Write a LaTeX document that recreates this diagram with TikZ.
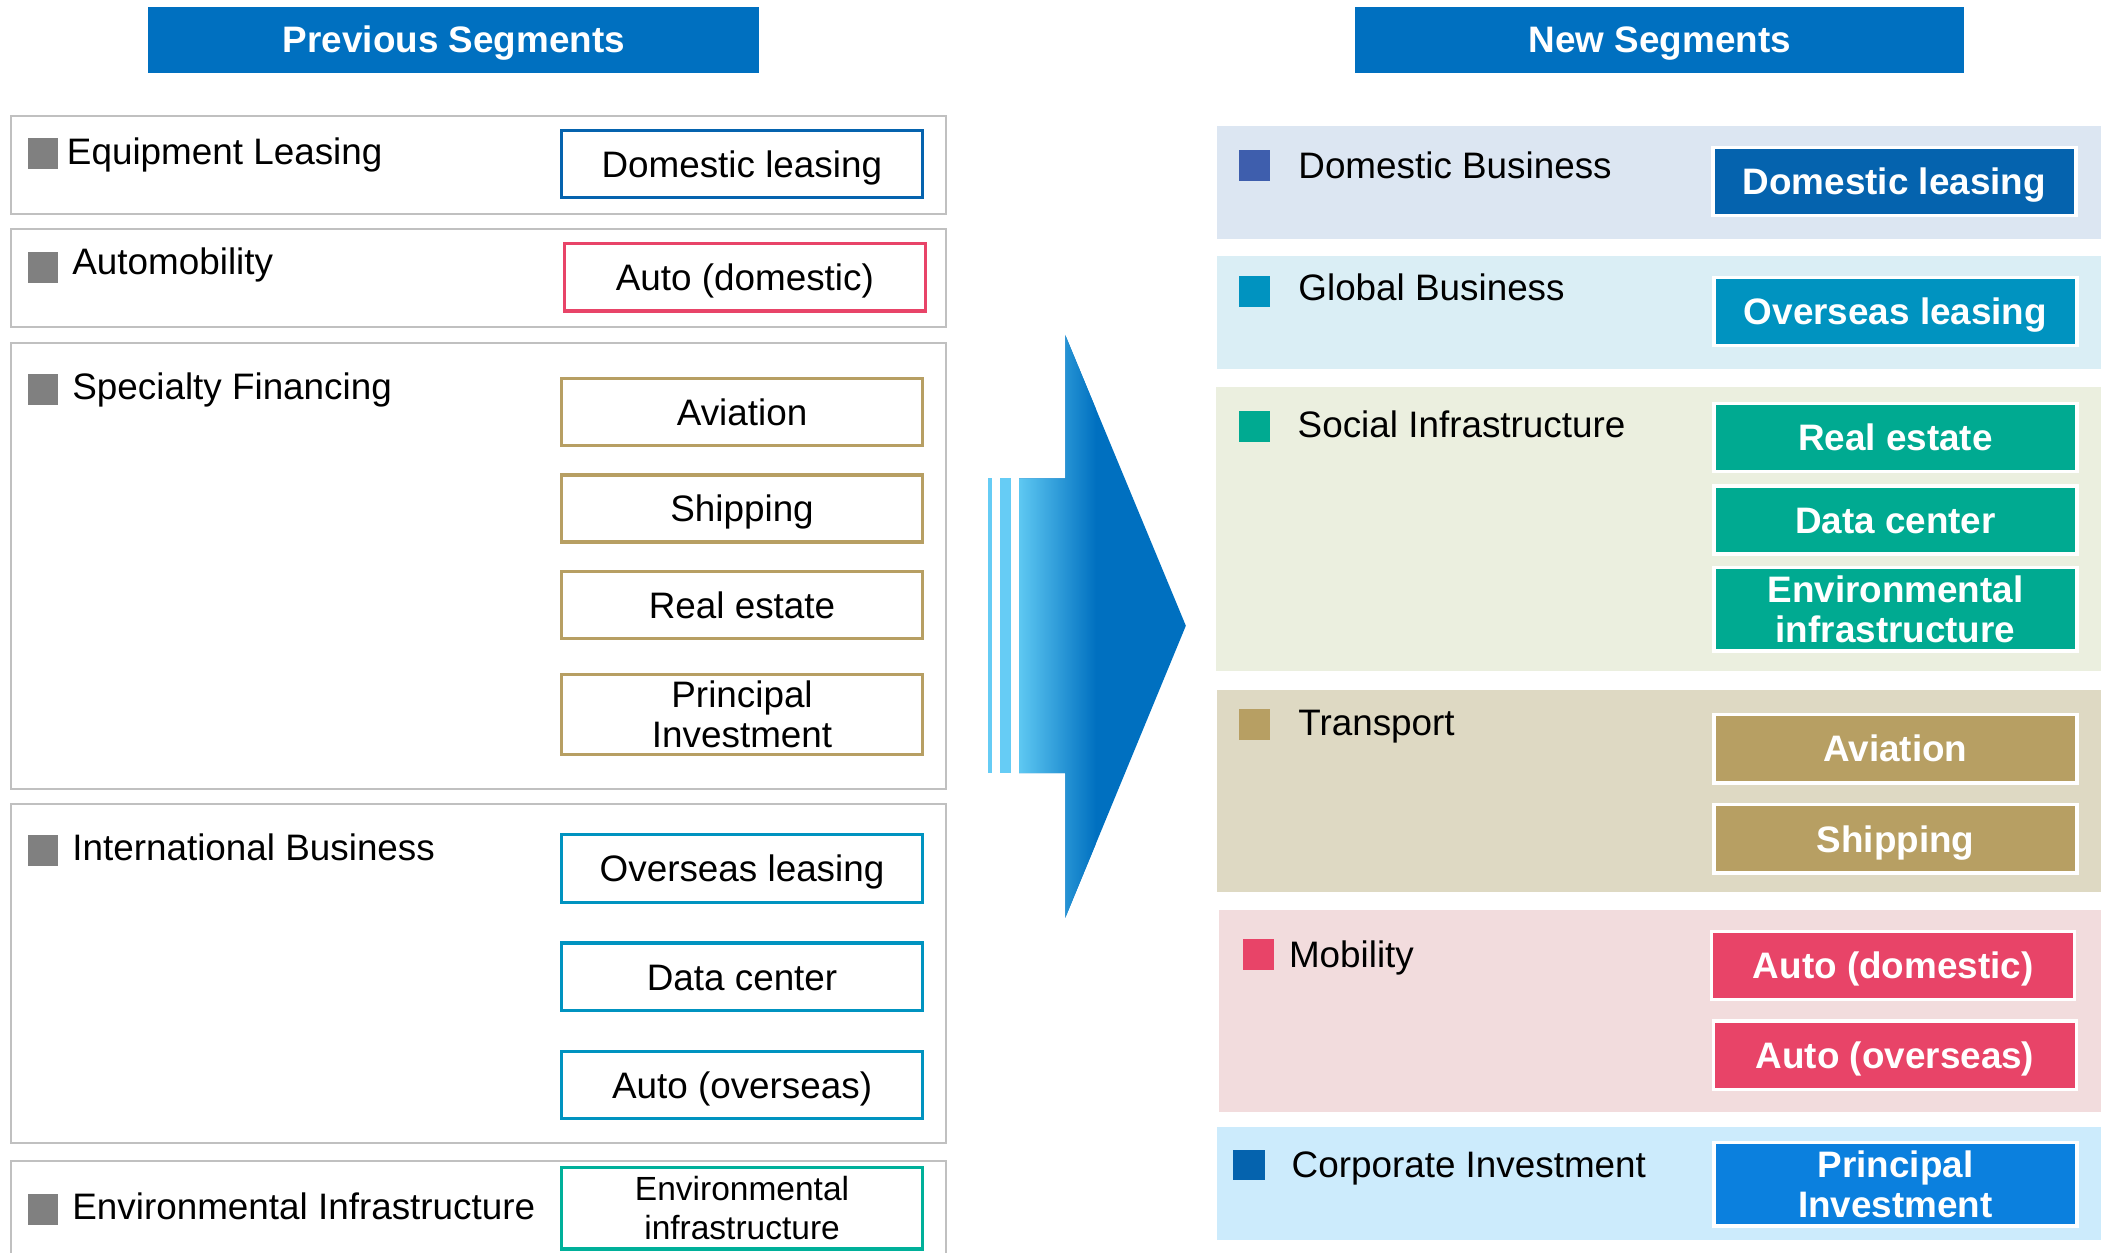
\documentclass[tikz,border=0pt]{standalone}
\usepackage{fontspec}
\setmainfont{Liberation Sans}
\definecolor{hblue}{HTML}{0070C0}
\definecolor{lgray}{HTML}{C0C0C0}
\definecolor{sqgray}{HTML}{808080}
\definecolor{cdom}{HTML}{0563AE}
\definecolor{cdomsq}{HTML}{3E5EAD}
\definecolor{cglob}{HTML}{0093C0}
\definecolor{csoc}{HTML}{00AA91}
\definecolor{cenvl}{HTML}{00B09A}
\definecolor{cgold}{HTML}{B79F63}
\definecolor{cred}{HTML}{E84468}
\definecolor{cpi}{HTML}{0B80DE}
\definecolor{pdom}{HTML}{DCE6F2}
\definecolor{pglob}{HTML}{DAEEF5}
\definecolor{psoc}{HTML}{EBEFDF}
\definecolor{ptra}{HTML}{DED9C3}
\definecolor{pmob}{HTML}{F2DCDD}
\definecolor{pcorp}{HTML}{CCEBFC}
\definecolor{alight}{HTML}{5EC8F2}
\definecolor{stripe}{HTML}{66CCF5}
\begin{document}
\begin{tikzpicture}[x=1pt,y=-1pt,
  every node/.style={inner sep=0pt, outer sep=0pt},
  txt/.style={font=\fontsize{27.5pt}{30pt}\selectfont},
  btxt/.style={font=\fontsize{27.5pt}{29.5pt}\selectfont\bfseries, text=white},
  one/.style={text height=19.7pt, text depth=0pt},
  lseg/.style={draw=lgray, line width=1.5pt},
  lsub/.style={draw=#1, fill=white, line width=2.5pt, minimum width=269.5pt, txt, align=center},
  rsub/.style={draw=white, fill=#1, line width=2.5pt, minimum width=271pt, btxt, align=center},
  sqr/.style={fill=#1},
  lab/.style={txt, anchor=base west},
  hdr/.style={fill=hblue, minimum height=49.2pt, btxt, one}
]
\useasboundingbox (0,0) rectangle (1568,935);
\fill[white] (0,0) rectangle (1568,935);

% headers
\node[hdr, minimum width=456pt] (hprev) at (338.8,29.6) {Previous Segments};
\node[hdr, minimum width=454.6pt] (hnew) at (1238.7,29.6) {New Segments};

% ---------- left: previous segments ----------
\draw[lseg] (8.5,86.3) rectangle (706,159.7);
\draw[lseg] (8.5,170.7) rectangle (706,244);
\draw[lseg] (8.5,256) rectangle (706,589);
\draw[lseg] (8.5,600) rectangle (706,853);
\draw[lseg] (8.5,866.5) rectangle (706,960);

\fill[sqr=sqgray] (21,103) rectangle (43,126);
\fill[sqr=sqgray] (21,188) rectangle (43,211);
\fill[sqr=sqgray] (21,279.3) rectangle (43,302);
\fill[sqr=sqgray] (21,623.4) rectangle (43,646.3);
\fill[sqr=sqgray] (21,891) rectangle (43,914);

\node[lab] (lequip) at (50,123) {Equipment Leasing};
\node[lab] (lauto) at (54,205) {Automobility};
\node[lab] (lspec) at (54,298.5) {Specialty Financing};
\node[lab] (lintl) at (54,642.3) {International Business};
\node[lab] (lenvs) at (54,910) {Environmental Infrastructure};

\node[lsub=cdom, minimum height=49.7pt, one] (ldom) at (553.6,122.4) {Domestic leasing};
\node[lsub=cred, minimum height=50.3pt, one] (lautod) at (555.9,207) {Auto (domestic)};
\node[lsub=cgold, minimum height=50.3pt, one] (lavi) at (553.8,307.4) {Aviation};
\node[lsub=cgold, minimum height=50pt, one] (lship) at (553.8,379.5) {Shipping};
\node[lsub=cgold, minimum height=50pt, one] (lreal) at (553.8,451.7) {Real estate};
\node[lsub=cgold, minimum height=59.9pt] (lpi) at (553.8,533.2) {Principal\\Investment};
\node[lsub=cglob, minimum height=50.7pt, one] (lover) at (553.8,648) {Overseas leasing};
\node[lsub=cglob, minimum height=50.5pt, one] (ldata) at (553.8,729) {Data center};
\node[lsub=cglob, minimum height=50.2pt, one] (lautoo) at (553.8,809.7) {Auto (overseas)};
\node[lsub=cenvl, minimum height=60.9pt, font=\fontsize{25pt}{29pt}\selectfont] (lenv) at (553.8,901.7) {Environmental\\infrastructure};

% ---------- arrow ----------
\fill[stripe] (737.3,357) rectangle (740.3,577);
\fill[stripe] (746.3,357) rectangle (754.5,577);
\begin{scope}
  \clip (760.5,357) -- (795,357) -- (795,250) -- (885,467) -- (795,685) -- (795,577) -- (760.5,577) -- cycle;
  \fill[hblue] (755,245) rectangle (890,690);
  \shade[left color=alight, right color=hblue] (760.5,245) rectangle (818,690);
\end{scope}

% ---------- right: new segments ----------
\fill[pdom] (908.4,94) rectangle (1570,178.6);
\fill[pglob] (908.4,191) rectangle (1570,275.6);
\fill[psoc] (907.6,288.6) rectangle (1570,501);
\fill[ptra] (908,515) rectangle (1570,665.5);
\fill[pmob] (909.5,679) rectangle (1570,829.7);
\fill[pcorp] (908,840.8) rectangle (1570,925.4);

\fill[sqr=cdomsq] (925,112) rectangle (948,135);
\fill[sqr=cglob] (925,206) rectangle (948,229);
\fill[sqr=csoc] (925,306.7) rectangle (948,329.6);
\fill[sqr=cgold] (925,529) rectangle (948,552);
\fill[sqr=cred] (928,701) rectangle (951,724);
\fill[sqr=cdom] (920,858) rectangle (944,881);

\node[lab] (rdomb) at (969,133) {Domestic Business};
\node[lab] (rglobb) at (969,224) {Global Business};
\node[lab] (rsocb) at (968.5,326.6) {Social Infrastructure};
\node[lab] (rtrab) at (969,549) {Transport};
\node[lab] (rmobb) at (962,722) {Mobility};
\node[lab] (rcorpb) at (964,879) {Corporate Investment};

\node[rsub=cdom, minimum height=50.7pt, one] (rdom) at (1413.8,135.6) {Domestic leasing};
\node[rsub=cglob, minimum height=50.7pt, one] (rover) at (1414.6,232.6) {Overseas leasing};
\node[rsub=csoc, minimum height=50.7pt, one] (rreal) at (1414.6,326.6) {Real estate};
\node[rsub=csoc, minimum height=50.7pt, one] (rdata) at (1414.6,388.1) {Data center};
\node[rsub=csoc, minimum height=62.2pt] (renv) at (1414.6,454.7) {Environmental\\infrastructure};
\node[rsub=cgold, minimum height=51.2pt, one] (ravi) at (1414.6,558.7) {Aviation};
\node[rsub=cgold, minimum height=51pt, one] (rship) at (1414.6,626) {Shipping};
\node[rsub=cred, minimum height=50.8pt, one] (rautod) at (1412.9,720.6) {Auto (domestic)};
\node[rsub=cred, minimum height=51pt, one] (rautoo) at (1414.3,787.5) {Auto (overseas)};
\node[rsub=cpi, minimum height=62.2pt] (rpi) at (1414.6,883.9) {Principal\\Investment};
\end{tikzpicture}
\end{document}
